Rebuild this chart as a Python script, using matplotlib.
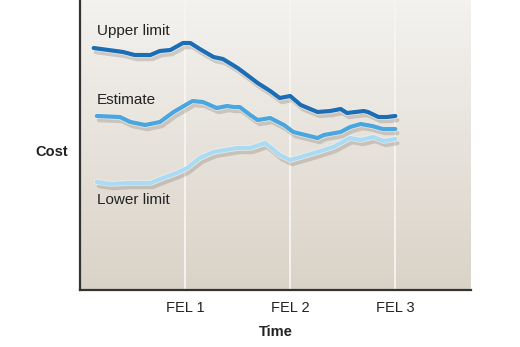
import numpy as np
import matplotlib.pyplot as plt
import matplotlib.patheffects as pe

plt.rcParams['font.family'] = ['Liberation Sans', 'DejaVu Sans']

# ==============================
# DATA (time in FEL units, cost in arbitrary units)
# ==============================
fel_ticks = [1, 2, 3]
fel_labels = ["FEL 1", "FEL 2", "FEL 3"]

upper_t = [0.13, 0.41, 0.52, 0.67, 0.76, 0.86, 0.98, 1.05, 1.14, 1.27, 1.36, 1.50,
           1.59, 1.69, 1.81, 1.90, 2.00, 2.10, 2.26, 2.38, 2.48, 2.54, 2.70, 2.74,
           2.84, 2.92, 3.00]
upper_c = [242, 238, 235, 235, 239, 240, 247, 247, 241, 233, 231, 222,
           215, 207, 199, 192, 194, 185, 178, 179, 181, 177, 179, 178,
           173, 173, 174]

est_t = [0.16, 0.38, 0.48, 0.62, 0.76, 0.89, 1.07, 1.17, 1.30, 1.40, 1.46, 1.52,
         1.62, 1.69, 1.81, 1.94, 2.03, 2.26, 2.32, 2.48, 2.57, 2.67, 2.78, 2.88, 3.00]
est_c = [174, 173, 168, 165, 168, 178, 189, 188, 182, 184, 183, 183,
         175, 170, 172, 165, 158, 152, 155, 158, 163, 166, 164, 161, 161]

low_t = [0.16, 0.29, 0.45, 0.67, 0.79, 0.92, 1.02, 1.14, 1.27, 1.38, 1.50, 1.62,
         1.76, 1.81, 1.90, 2.00, 2.10, 2.26, 2.41, 2.57, 2.67, 2.79, 2.89, 3.00]
low_c = [108, 106, 107, 107, 112, 117, 122, 132, 138, 140, 142, 142,
         147, 143, 135, 130, 133, 138, 143, 152, 150, 153, 149, 151]

series = [
    ("Upper limit", upper_t, upper_c, "#1b6db6", (0.16, 259)),
    ("Estimate", est_t, est_c, "#4aa6df", (0.16, 190)),
    ("Lower limit", low_t, low_c, "#a9dcf4", (0.16, 90)),
]

# ==============================
# FIGURE
# ==============================
fig = plt.figure(figsize=(5.2, 3.47), dpi=100)
ax = fig.add_axes([80 / 520, 1 - 290 / 347, 391 / 520, 290 / 347])

# background gradient
grad = np.linspace(0, 1, 256).reshape(-1, 1)
top = np.array([0.955, 0.950, 0.940])
bot = np.array([0.855, 0.825, 0.780])
img = top[None, None, :] * (1 - grad[..., None]) + bot[None, None, :] * grad[..., None]
ax.imshow(img, extent=[0, 3.72, 0, 290], aspect='auto', origin='upper', zorder=0)

for t in fel_ticks:
    ax.axvline(t, color="#f7f5f2", lw=1.3, zorder=1)

for name, t, c, col, (lx, ly) in series:
    ax.plot(t, c, color=col, lw=3.0, solid_capstyle='round', zorder=3,
            path_effects=[pe.SimpleLineShadow(offset=(1.5, -3), shadow_color='#7a6e62', alpha=0.28),
                          pe.Stroke(linewidth=4.2, foreground='#f6f4f0', alpha=0.6),
                          pe.Normal()])
    ax.text(lx, ly, name, fontsize=11, color="#222222", va='center', ha='left', zorder=4)

ax.set_xlim(0, 3.72)
ax.set_ylim(0, 290)
ax.set_xticks(fel_ticks)
ax.set_xticklabels(fel_labels, fontsize=10.5, color="#222222")
ax.set_yticks([])
ax.tick_params(axis='x', length=0, pad=8)

for s in ["top", "right"]:
    ax.spines[s].set_visible(False)
for s in ["left", "bottom"]:
    ax.spines[s].set_color("#333333")
    ax.spines[s].set_linewidth(1.6)

ax.set_xlabel("Time", fontsize=10.5, fontweight='bold', color="#222222", labelpad=7)
fig.text(35 / 520, 1 - 152 / 347, "Cost", fontsize=10.5, fontweight='bold',
         color="#222222", ha='left', va='center')

fig.savefig("out.png", dpi=100)
